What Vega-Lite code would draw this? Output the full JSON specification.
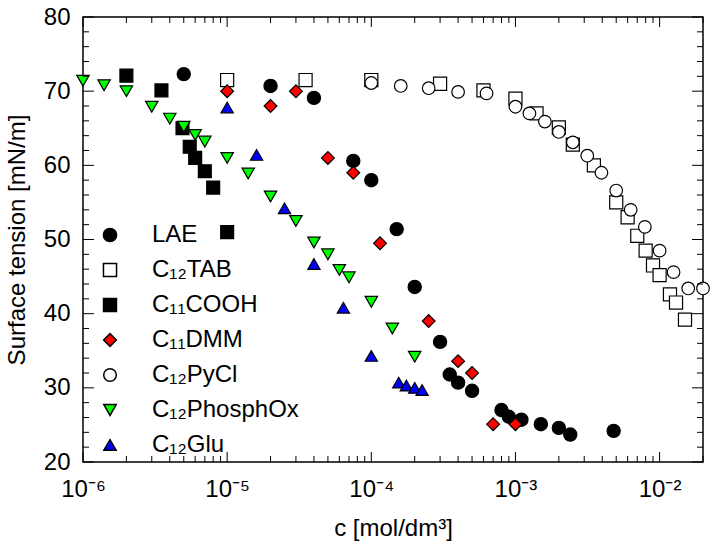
{
  "$schema": "https://vega.github.io/schema/vega-lite/v6.json",
  "width": 620,
  "height": 445,
  "autosize": {"type": "none"},
  "padding": {"left": 83, "top": 17, "right": 13, "bottom": 90},
  "background": "white",
  "config": {
    "view": {"stroke": "black", "strokeWidth": 1.5},
    "font": "Liberation Sans",
    "axis": {
      "grid": false,
      "domain": false,
      "ticks": false,
      "labelColor": "black",
      "titleColor": "black",
      "labelFont": "Liberation Sans",
      "titleFont": "Liberation Sans",
      "titleFontWeight": "normal",
      "labelFontSize": 24,
      "titleFontSize": 24,
      "labelOverlap": false,
      "labelFlush": false,
      "labelBound": false
    }
  },
  "datasets": {
    "xmaj": [{"v": 1e-6}, {"v": 1e-5}, {"v": 1e-4}, {"v": 1e-3}, {"v": 1e-2}],
    "xmin": [{"v": 2e-6}, {"v": 3e-6}, {"v": 4e-6}, {"v": 5e-6}, {"v": 6e-6}, {"v": 7e-6}, {"v": 8e-6}, {"v": 9e-6}, {"v": 2e-5}, {"v": 3e-5}, {"v": 4e-5}, {"v": 5e-5}, {"v": 6e-5}, {"v": 7e-5}, {"v": 8e-5}, {"v": 9e-5}, {"v": 2e-4}, {"v": 3e-4}, {"v": 4e-4}, {"v": 5e-4}, {"v": 6e-4}, {"v": 7e-4}, {"v": 8e-4}, {"v": 9e-4}, {"v": 2e-3}, {"v": 3e-3}, {"v": 4e-3}, {"v": 5e-3}, {"v": 6e-3}, {"v": 7e-3}, {"v": 8e-3}, {"v": 9e-3}, {"v": 2e-2}],
    "ymaj": [{"v": 20}, {"v": 30}, {"v": 40}, {"v": 50}, {"v": 60}, {"v": 70}, {"v": 80}],
    "ymin": [{"v": 22}, {"v": 24}, {"v": 26}, {"v": 28}, {"v": 32}, {"v": 34}, {"v": 36}, {"v": 38}, {"v": 42}, {"v": 44}, {"v": 46}, {"v": 48}, {"v": 52}, {"v": 54}, {"v": 56}, {"v": 58}, {"v": 62}, {"v": 64}, {"v": 66}, {"v": 68}, {"v": 72}, {"v": 74}, {"v": 76}, {"v": 78}],
    "pts": [
      {"s": "C₁₂TAB", "c": 1e-5, "st": 71.5},
      {"s": "C₁₂TAB", "c": 3.5e-5, "st": 71.5},
      {"s": "C₁₂TAB", "c": 1e-4, "st": 71.5},
      {"s": "C₁₂TAB", "c": 3e-4, "st": 71.0},
      {"s": "C₁₂TAB", "c": 6e-4, "st": 70.1},
      {"s": "C₁₂TAB", "c": 1e-3, "st": 69.0},
      {"s": "C₁₂TAB", "c": 1.4e-3, "st": 67.0},
      {"s": "C₁₂TAB", "c": 2e-3, "st": 65.1},
      {"s": "C₁₂TAB", "c": 2.5e-3, "st": 62.8},
      {"s": "C₁₂TAB", "c": 3.5e-3, "st": 60.0},
      {"s": "C₁₂TAB", "c": 5e-3, "st": 55.0},
      {"s": "C₁₂TAB", "c": 6e-3, "st": 53.0},
      {"s": "C₁₂TAB", "c": 7e-3, "st": 50.5},
      {"s": "C₁₂TAB", "c": 8e-3, "st": 48.5},
      {"s": "C₁₂TAB", "c": 9e-3, "st": 46.5},
      {"s": "C₁₂TAB", "c": 1e-2, "st": 45.2},
      {"s": "C₁₂TAB", "c": 1.18e-2, "st": 42.6},
      {"s": "C₁₂TAB", "c": 1.3e-2, "st": 41.5},
      {"s": "C₁₂TAB", "c": 1.5e-2, "st": 39.2},
      {"s": "C₁₂PyCl", "c": 1e-4, "st": 71.1},
      {"s": "C₁₂PyCl", "c": 1.6e-4, "st": 70.7},
      {"s": "C₁₂PyCl", "c": 2.5e-4, "st": 70.4},
      {"s": "C₁₂PyCl", "c": 4e-4, "st": 69.9},
      {"s": "C₁₂PyCl", "c": 6.3e-4, "st": 69.7},
      {"s": "C₁₂PyCl", "c": 1e-3, "st": 67.9},
      {"s": "C₁₂PyCl", "c": 1.25e-3, "st": 67.0},
      {"s": "C₁₂PyCl", "c": 1.6e-3, "st": 65.9},
      {"s": "C₁₂PyCl", "c": 2e-3, "st": 64.5},
      {"s": "C₁₂PyCl", "c": 2.5e-3, "st": 63.1},
      {"s": "C₁₂PyCl", "c": 3.15e-3, "st": 61.3},
      {"s": "C₁₂PyCl", "c": 3.95e-3, "st": 59.0},
      {"s": "C₁₂PyCl", "c": 5e-3, "st": 56.6},
      {"s": "C₁₂PyCl", "c": 6.3e-3, "st": 54.0},
      {"s": "C₁₂PyCl", "c": 7.9e-3, "st": 51.7},
      {"s": "C₁₂PyCl", "c": 1e-2, "st": 48.5},
      {"s": "C₁₂PyCl", "c": 1.25e-2, "st": 45.6},
      {"s": "C₁₂PyCl", "c": 1.58e-2, "st": 43.4},
      {"s": "C₁₂PyCl", "c": 2e-2, "st": 43.4},
      {"s": "C₁₁COOH", "c": 2e-6, "st": 72.1},
      {"s": "C₁₁COOH", "c": 3.5e-6, "st": 70.1},
      {"s": "C₁₁COOH", "c": 4.9e-6, "st": 65.0},
      {"s": "C₁₁COOH", "c": 5.5e-6, "st": 62.5},
      {"s": "C₁₁COOH", "c": 6e-6, "st": 61.0},
      {"s": "C₁₁COOH", "c": 7e-6, "st": 59.2},
      {"s": "C₁₁COOH", "c": 8e-6, "st": 57.0},
      {"s": "C₁₁COOH", "c": 1e-5, "st": 51.0},
      {"s": "LAE", "c": 5e-6, "st": 72.3},
      {"s": "LAE", "c": 2e-5, "st": 70.7},
      {"s": "LAE", "c": 4e-5, "st": 69.1},
      {"s": "LAE", "c": 7.5e-5, "st": 60.6},
      {"s": "LAE", "c": 1e-4, "st": 58.0},
      {"s": "LAE", "c": 1.5e-4, "st": 51.4},
      {"s": "LAE", "c": 2e-4, "st": 43.6},
      {"s": "LAE", "c": 3e-4, "st": 36.2},
      {"s": "LAE", "c": 3.5e-4, "st": 31.8},
      {"s": "LAE", "c": 4e-4, "st": 30.7},
      {"s": "LAE", "c": 5e-4, "st": 29.6},
      {"s": "LAE", "c": 8e-4, "st": 27.0},
      {"s": "LAE", "c": 9e-4, "st": 26.1},
      {"s": "LAE", "c": 1.1e-3, "st": 25.7},
      {"s": "LAE", "c": 1.5e-3, "st": 25.1},
      {"s": "LAE", "c": 2e-3, "st": 24.6},
      {"s": "LAE", "c": 2.4e-3, "st": 23.7},
      {"s": "LAE", "c": 4.8e-3, "st": 24.2},
      {"s": "C₁₂PhosphOx", "c": 1e-6, "st": 71.4},
      {"s": "C₁₂PhosphOx", "c": 1.4e-6, "st": 70.8},
      {"s": "C₁₂PhosphOx", "c": 2e-6, "st": 70.0},
      {"s": "C₁₂PhosphOx", "c": 3e-6, "st": 67.9},
      {"s": "C₁₂PhosphOx", "c": 4e-6, "st": 66.3},
      {"s": "C₁₂PhosphOx", "c": 5e-6, "st": 65.2},
      {"s": "C₁₂PhosphOx", "c": 6e-6, "st": 64.1},
      {"s": "C₁₂PhosphOx", "c": 7e-6, "st": 63.2},
      {"s": "C₁₂PhosphOx", "c": 1e-5, "st": 61.0},
      {"s": "C₁₂PhosphOx", "c": 1.4e-5, "st": 58.9},
      {"s": "C₁₂PhosphOx", "c": 2e-5, "st": 55.8},
      {"s": "C₁₂PhosphOx", "c": 3e-5, "st": 52.5},
      {"s": "C₁₂PhosphOx", "c": 4e-5, "st": 49.6},
      {"s": "C₁₂PhosphOx", "c": 5e-5, "st": 48.0},
      {"s": "C₁₂PhosphOx", "c": 6e-5, "st": 45.9},
      {"s": "C₁₂PhosphOx", "c": 7e-5, "st": 44.9},
      {"s": "C₁₂PhosphOx", "c": 1e-4, "st": 41.6},
      {"s": "C₁₂PhosphOx", "c": 1.4e-4, "st": 38.0},
      {"s": "C₁₂PhosphOx", "c": 2e-4, "st": 34.2},
      {"s": "C₁₂Glu", "c": 1e-5, "st": 67.8},
      {"s": "C₁₂Glu", "c": 1.6e-5, "st": 61.4},
      {"s": "C₁₂Glu", "c": 2.5e-5, "st": 54.2},
      {"s": "C₁₂Glu", "c": 4e-5, "st": 46.7},
      {"s": "C₁₂Glu", "c": 6.4e-5, "st": 40.8},
      {"s": "C₁₂Glu", "c": 1e-4, "st": 34.3},
      {"s": "C₁₂Glu", "c": 1.55e-4, "st": 30.7},
      {"s": "C₁₂Glu", "c": 1.75e-4, "st": 30.3},
      {"s": "C₁₂Glu", "c": 2e-4, "st": 30.0},
      {"s": "C₁₂Glu", "c": 2.25e-4, "st": 29.7},
      {"s": "C₁₁DMM", "c": 1e-5, "st": 70.0},
      {"s": "C₁₁DMM", "c": 2e-5, "st": 68.0},
      {"s": "C₁₁DMM", "c": 3e-5, "st": 70.0},
      {"s": "C₁₁DMM", "c": 5e-5, "st": 61.0},
      {"s": "C₁₁DMM", "c": 7.5e-5, "st": 59.0},
      {"s": "C₁₁DMM", "c": 1.15e-4, "st": 49.5},
      {"s": "C₁₁DMM", "c": 2.5e-4, "st": 39.0},
      {"s": "C₁₁DMM", "c": 4e-4, "st": 33.6},
      {"s": "C₁₁DMM", "c": 5e-4, "st": 32.0},
      {"s": "C₁₁DMM", "c": 7e-4, "st": 25.1},
      {"s": "C₁₁DMM", "c": 1e-3, "st": 25.1}
    ]
  },
  "layer": [
    {
      "data": {"name": "pts"},
      "mark": {"type": "point", "filled": true, "stroke": "black", "strokeWidth": 1.2, "opacity": 1, "clip": false},
      "encoding": {
        "x": {
          "field": "c", "type": "quantitative",
          "scale": {"type": "log", "domain": [1e-6, 0.02], "nice": false},
          "axis": {
            "orient": "bottom",
            "values": [1e-6, 1e-5, 1e-4, 1e-3, 1e-2],
            "labelExpr": "'10' + ['⁻⁶','⁻⁵','⁻⁴','⁻³','⁻²'][round(log(datum.value)/LN10)+6]",
            "labelPadding": 15,
            "title": "c [mol/dm³]",
            "titlePadding": 15
          }
        },
        "y": {
          "field": "st", "type": "quantitative",
          "scale": {"domain": [20, 80], "nice": false, "zero": false},
          "axis": {
            "orient": "left",
            "values": [20, 30, 40, 50, 60, 70, 80],
            "labelPadding": 13,
            "title": "Surface tension [mN/m]",
            "titlePadding": 14
          }
        },
        "shape": {
          "field": "s", "type": "nominal",
          "scale": {
            "domain": ["LAE", "C₁₂TAB", "C₁₁COOH", "C₁₁DMM", "C₁₂PyCl", "C₁₂PhosphOx", "C₁₂Glu"],
            "range": ["circle", "square", "square", "diamond", "circle", "triangle-down", "triangle-up"]
          },
          "legend": {"orient": "none", "legendX": 15, "legendY": 206, "title": null, "labelFontSize": 24, "labelFont": "Liberation Sans", "labelColor": "black", "labelOffset": 30, "rowPadding": 11, "padding": 0, "encode": {"symbols": {"update": {"stroke": {"value": "black"}, "strokeWidth": {"value": 1.2}}}}}
        },
        "fill": {
          "field": "s", "type": "nominal",
          "scale": {
            "domain": ["LAE", "C₁₂TAB", "C₁₁COOH", "C₁₁DMM", "C₁₂PyCl", "C₁₂PhosphOx", "C₁₂Glu"],
            "range": ["black", "white", "black", "#ff0000", "white", "#00ff00", "#0000ff"]
          },
          "legend": {"orient": "none", "legendX": 15, "legendY": 206, "title": null, "labelFontSize": 24, "labelFont": "Liberation Sans", "labelColor": "black", "labelOffset": 30, "rowPadding": 11, "padding": 0, "encode": {"symbols": {"update": {"stroke": {"value": "black"}, "strokeWidth": {"value": 1.2}}}}}
        },
        "size": {
          "field": "s", "type": "nominal",
          "scale": {
            "domain": ["LAE", "C₁₂TAB", "C₁₁COOH", "C₁₁DMM", "C₁₂PyCl", "C₁₂PhosphOx", "C₁₂Glu"],
            "range": [175, 150, 150, 220, 175, 210, 210]
          },
          "legend": {"orient": "none", "legendX": 15, "legendY": 206, "title": null, "labelFontSize": 24, "labelFont": "Liberation Sans", "labelColor": "black", "labelOffset": 30, "rowPadding": 11, "padding": 0, "encode": {"symbols": {"update": {"stroke": {"value": "black"}, "strokeWidth": {"value": 1.2}}}}}
        }
      }
    },
    {
      "data": {"name": "xmaj"},
      "mark": {"type": "point", "shape": "M0,0L0,-1", "size": 400, "filled": false, "color": "black", "strokeWidth": 1, "opacity": 1},
      "encoding": {
        "x": {"field": "v", "type": "quantitative", "scale": {"type": "log", "domain": [1e-6, 0.02], "nice": false}},
        "y": {"datum": 20, "type": "quantitative", "scale": {"domain": [20, 80], "nice": false, "zero": false}}
      }
    },
    {
      "data": {"name": "xmaj"},
      "mark": {"type": "point", "shape": "M0,0L0,1", "size": 400, "filled": false, "color": "black", "strokeWidth": 1, "opacity": 1},
      "encoding": {
        "x": {"field": "v", "type": "quantitative", "scale": {"type": "log", "domain": [1e-6, 0.02], "nice": false}},
        "y": {"datum": 80, "type": "quantitative", "scale": {"domain": [20, 80], "nice": false, "zero": false}}
      }
    },
    {
      "data": {"name": "xmin"},
      "mark": {"type": "point", "shape": "M0,0L0,-1", "size": 144, "filled": false, "color": "black", "strokeWidth": 1, "opacity": 1},
      "encoding": {
        "x": {"field": "v", "type": "quantitative", "scale": {"type": "log", "domain": [1e-6, 0.02], "nice": false}},
        "y": {"datum": 20, "type": "quantitative", "scale": {"domain": [20, 80], "nice": false, "zero": false}}
      }
    },
    {
      "data": {"name": "xmin"},
      "mark": {"type": "point", "shape": "M0,0L0,1", "size": 144, "filled": false, "color": "black", "strokeWidth": 1, "opacity": 1},
      "encoding": {
        "x": {"field": "v", "type": "quantitative", "scale": {"type": "log", "domain": [1e-6, 0.02], "nice": false}},
        "y": {"datum": 80, "type": "quantitative", "scale": {"domain": [20, 80], "nice": false, "zero": false}}
      }
    },
    {
      "data": {"name": "ymaj"},
      "mark": {"type": "point", "shape": "M0,0L1,0", "size": 484, "filled": false, "color": "black", "strokeWidth": 1, "opacity": 1},
      "encoding": {
        "y": {"field": "v", "type": "quantitative", "scale": {"domain": [20, 80], "nice": false, "zero": false}},
        "x": {"datum": 1e-6, "type": "quantitative", "scale": {"type": "log", "domain": [1e-6, 0.02], "nice": false}}
      }
    },
    {
      "data": {"name": "ymaj"},
      "mark": {"type": "point", "shape": "M0,0L-1,0", "size": 484, "filled": false, "color": "black", "strokeWidth": 1, "opacity": 1},
      "encoding": {
        "y": {"field": "v", "type": "quantitative", "scale": {"domain": [20, 80], "nice": false, "zero": false}},
        "x": {"datum": 0.02, "type": "quantitative", "scale": {"type": "log", "domain": [1e-6, 0.02], "nice": false}}
      }
    },
    {
      "data": {"name": "ymin"},
      "mark": {"type": "point", "shape": "M0,0L1,0", "size": 144, "filled": false, "color": "black", "strokeWidth": 1, "opacity": 1},
      "encoding": {
        "y": {"field": "v", "type": "quantitative", "scale": {"domain": [20, 80], "nice": false, "zero": false}},
        "x": {"datum": 1e-6, "type": "quantitative", "scale": {"type": "log", "domain": [1e-6, 0.02], "nice": false}}
      }
    },
    {
      "data": {"name": "ymin"},
      "mark": {"type": "point", "shape": "M0,0L-1,0", "size": 144, "filled": false, "color": "black", "strokeWidth": 1, "opacity": 1},
      "encoding": {
        "y": {"field": "v", "type": "quantitative", "scale": {"domain": [20, 80], "nice": false, "zero": false}},
        "x": {"datum": 0.02, "type": "quantitative", "scale": {"type": "log", "domain": [1e-6, 0.02], "nice": false}}
      }
    }
  ]
}
